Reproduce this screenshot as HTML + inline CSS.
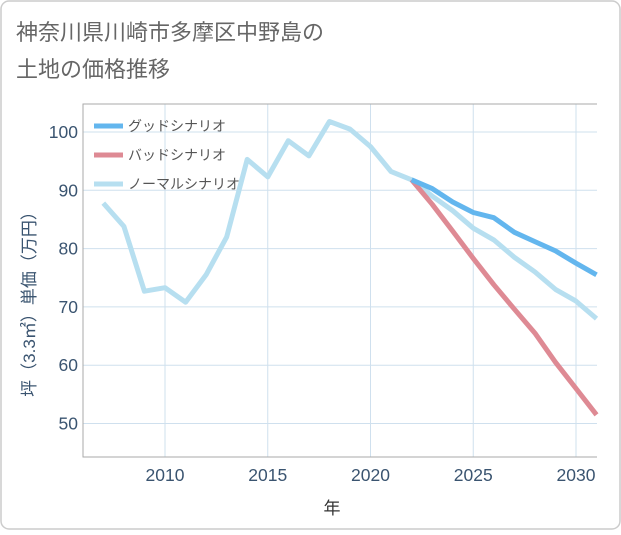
<!DOCTYPE html>
<html><head><meta charset="utf-8"><style>
body{margin:0;background:#fff;font-family:"Liberation Sans","Noto Sans CJK JP",sans-serif;}
#wrap{position:relative;width:621px;height:530px;}
</style></head><body>
<div id="wrap">
<svg id="chart" width="621" height="530" xmlns="http://www.w3.org/2000/svg">
<rect x="1" y="1" width="619" height="528" rx="8" fill="#fff" stroke="#ccc" stroke-width="1.5"/>
<text x="16" y="40" font-size="22" fill="#666">神奈川県川崎市多摩区中野島の</text>
<text x="16" y="77" font-size="22" fill="#666">土地の価格推移</text>
<g id="grid"></g>
<g id="axes"></g>
<g id="series"></g>
<g id="legend"></g>
<text x="332" y="514" font-size="17" fill="#333" text-anchor="middle">年</text>
<text transform="translate(35,300) rotate(-90)" font-size="17" fill="#3a5470" text-anchor="middle">坪（3.3㎡）単価（万円）</text>
</svg>
</div>
<script>
const years=[2007,2008,2009,2010,2011,2012,2013,2014,2015,2016,2017,2018,2019,2020,2021,2022,2023,2024,2025,2026,2027,2028,2029,2030,2031];
const normalVals=[87.8,83.8,72.7,73.3,70.8,75.5,82,95.3,92.3,98.5,95.9,101.8,100.5,97.5,93.2,91.8,89,86.5,83.5,81.5,78.5,76,73,71,68];
const futureYears=[2022,2023,2024,2025,2026,2027,2028,2029,2030,2031];
const goodVals=[91.8,90.3,88,86.2,85.3,82.8,81.2,79.6,77.5,75.5];
const badVals=[91.8,87.6,83,78.3,73.8,69.6,65.5,60.5,56,51.5];
const xTicks=[2010,2015,2020,2025,2030];
const yTicks=[50,60,70,80,90,100];
const PL=83,PR=597,PT=104,PB=457;
const xs=y=>165+(y-2010)*20.55;
const ys=v=>132+(100-v)*5.83;
const NS="http://www.w3.org/2000/svg";
function mk(tag,parent,attrs){const e=document.createElementNS(NS,tag);for(const k in attrs)e.setAttribute(k,attrs[k]);parent.appendChild(e);return e;}
const grid=document.getElementById('grid'),axes=document.getElementById('axes'),ser=document.getElementById('series'),leg=document.getElementById('legend');
xTicks.forEach(t=>{
  const l=mk('line',grid,{x1:xs(t),x2:xs(t),y1:PT,y2:PB,stroke:'#cfe0ee','stroke-width':1});
  
  
  const tx=mk('text',axes,{x:xs(t),y:481,'font-size':17.5,fill:'#3a5470','text-anchor':'middle'});
  tx.textContent=t;
  
  
});
yTicks.forEach(t=>{
  const l=mk('line',grid,{x1:PL,x2:PR,y1:ys(t),y2:ys(t),stroke:'#cfe0ee','stroke-width':1});
  
  
  const tx=mk('text',axes,{x:78,y:ys(t)+6,'font-size':17.5,fill:'#3a5470','text-anchor':'end'});
  tx.textContent=t;
  
  
});
const frame=mk('path',axes,{d:`M${PR},${PT} H${PL} V${PB} H${PR}`,fill:'none',stroke:'#aaa','stroke-width':1});


function line(xv,vals,color,name){
  const d=vals.map((v,i)=>(i?'L':'M')+xs(xv[i]).toFixed(1)+','+ys(v).toFixed(1)).join(' ');
  const p=mk('path',ser,{d:d,fill:'none',stroke:color,'stroke-width':5,'stroke-linejoin':'round'});
  
  
}
line(years,normalVals,'#b7dff0','normal-scenario-line');
line(futureYears,badVals,'#de8a94','bad-scenario-line');
line(futureYears,goodVals,'#63b6ee','good-scenario-line');
[['グッドシナリオ','#63b6ee','legend-good'],['バッドシナリオ','#de8a94','legend-bad'],['ノーマルシナリオ','#b7dff0','legend-normal']].forEach((e,i)=>{
  const y=126+i*29;
  const g=mk('g',leg,{});
  
  
  mk('line',g,{x1:94,x2:123,y1:y,y2:y,stroke:e[1],'stroke-width':5});
  const t=mk('text',g,{x:128,y:y+5,'font-size':14,fill:'#555'});
  t.textContent=e[0];
});
</script>
</body></html>
